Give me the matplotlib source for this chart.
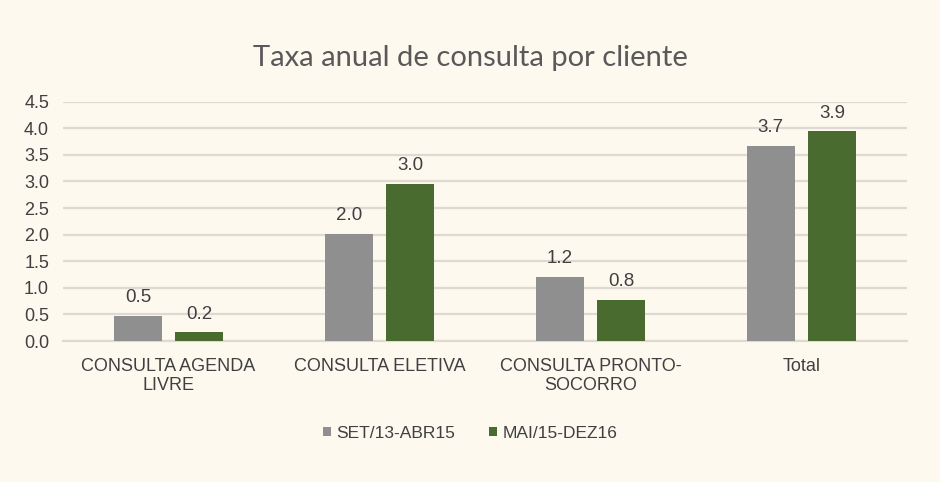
import matplotlib
matplotlib.use("Agg")
import matplotlib.pyplot as plt
import numpy as np

categories = ["CONSULTA AGENDA\nLIVRE", "CONSULTA ELETIVA", "CONSULTA PRONTO-\nSOCORRO", "Total"]
series_names = ["SET/13-ABR15", "MAI/15-DEZ16"]
set13_abr15 = [0.47, 2.02, 1.21, 3.67]
mai15_dez16 = [0.16, 2.95, 0.78, 3.94]
yticks = [0.0, 0.5, 1.0, 1.5, 2.0, 2.5, 3.0, 3.5, 4.0, 4.5]

bg = "#FDF9EF"
gray = "#8F8F8F"
green = "#4A6B30"
txt = "#404040"
grid = "#DEDAD3"

plt.rcParams["font.family"] = ["Liberation Sans", "DejaVu Sans"]
fig = plt.figure(figsize=(9.4, 4.82), dpi=100, facecolor=bg)
ax = fig.add_axes([63/940, 1-341/482, (907-63)/940, (341-101.7)/482], facecolor=bg)

x = np.arange(len(categories))
w = 0.227
off = 0.145
b1 = ax.bar(x - off, set13_abr15, w, color=gray, label=series_names[0], zorder=3)
b2 = ax.bar(x + off, mai15_dez16, w, color=green, label=series_names[1], zorder=3)
for bars, vals in ((b1, set13_abr15), (b2, mai15_dez16)):
    for r, v in zip(bars, vals):
        ax.annotate(f"{v:.1f}", (r.get_x() + r.get_width()/2, v), xytext=(0, 7),
                    textcoords="offset points", ha="center", va="bottom",
                    fontsize=13.5, color=txt)

ax.set_xlim(-0.5, len(categories) - 0.5)
ax.set_ylim(0, 4.5)
ax.set_yticks(yticks)
ax.set_yticklabels([f"{t:.1f}" for t in yticks])
ax.set_xticks(x)
ax.set_xticklabels(categories, linespacing=1.15)
ax.tick_params(axis="both", length=0, labelsize=13, labelcolor=txt)
ax.tick_params(axis="y", pad=10)
ax.tick_params(axis="x", pad=12)
ax.grid(axis="y", color=grid, linewidth=1.6, zorder=0)
for s in ["left", "right", "top"]:
    ax.spines[s].set_visible(False)
ax.spines["bottom"].set_color(grid)
ax.spines["bottom"].set_linewidth(1.6)

fig.text(0.5, 1-58/482, "Taxa anual de consulta por cliente", ha="center", va="center",
         fontsize=21, color="#595959", family=["Lato", "DejaVu Sans"])

leg = fig.legend(loc="center", bbox_to_anchor=(0.5, 1-433/482), ncol=2, frameon=False,
                 fontsize=12.5, handlelength=0.45, handleheight=0.45, handletextpad=0.3,
                 columnspacing=2.0, labelcolor=txt)

fig.savefig("out.png", dpi=100, facecolor=bg)
